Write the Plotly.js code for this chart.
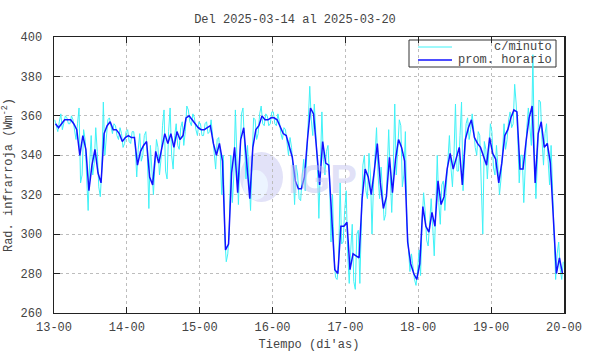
<!DOCTYPE html>
<html>
<head>
<meta charset="utf-8">
<script src="https://cdn.plot.ly/plotly-3.0.1.min.js"></script>
<style>html,body{margin:0;padding:0;background:#fff;}#chart{width:590px;height:354px;}</style>
</head>
<body>
<div id="chart"></div>
<script>
// Tick labels (day-hour)
const dayTicks = [0, 24, 48, 72, 96, 120, 144, 168];
const dayLabels = ["13-00", "14-00", "15-00", "16-00", "17-00", "18-00", "19-00", "20-00"];

// Hourly mean (prom. horario), 2025-03-13 00h .. 2025-03-19 23h
const hourlyMean = [
  356,354,356,358,358,358,356,353,340,350,343,322,335,343,331,326,351,355,357,353,353,351,347,349,
  350,349,349,335,342,345,347,329,325,342,336,343,351,346,351,344,352,348,350,359,360,358,356,354,
  353,353,354,355,346,340,346,337,292,295,331,344,321,348,354,336,318,344,353,355,360,358,358,359,
  359,358,354,351,350,345,339,327,323,323,329,348,364,361,344,325,347,336,335,308,282,280,304,304,
  306,282,290,289,288,318,333,329,320,332,346,326,313,319,339,321,338,348,344,337,296,285,280,277,
  285,314,304,301,311,304,327,315,319,333,341,333,339,344,325,348,354,358,349,346,344,339,335,349,
  341,338,326,336,350,353,359,363,362,333,333,347,359,365,326,351,357,344,346,336,309,280,288,280
];

// Per-minute data (c/minuto): highest and lowest reading within each hour
const minuteHigh = [
  358,357,361,360,359,360,358,356,364,353,348,336,350,354,342,333,367,358,359,356,355,354,351,352,
  353,352,352,343,351,350,352,345,333,348,344,355,363,352,364,350,356,354,357,365,363,361,359,357,
  356,356,357,358,350,348,349,340,298,302,340,363,336,361,364,345,328,359,358,361,365,361,360,362,
  362,361,357,354,353,349,344,335,330,329,338,356,375,366,352,336,362,342,345,320,288,285,326,312,
  322,292,305,300,302,335,340,341,330,342,354,334,322,330,353,332,366,358,355,352,305,290,284,281,
  292,321,312,309,318,312,340,325,327,340,350,340,366,350,367,356,359,361,353,352,350,347,343,356,
  352,345,334,344,356,358,362,376,366,340,340,354,364,391,340,368,367,351,356,345,318,290,296,286
];
const minuteLow = [
  354,352,353,356,356,356,353,348,326,330,329,312,330,336,324,319,340,351,354,351,350,348,344,346,
  347,346,345,329,337,340,340,313,320,335,330,338,332,328,340,333,345,343,345,352,357,355,353,350,
  350,350,351,352,343,333,341,320,286,290,316,330,315,338,346,328,312,337,348,351,356,355,355,356,
  356,355,351,348,347,340,333,315,318,317,322,340,358,350,336,308,338,330,330,296,278,277,295,296,
  290,275,276,272,275,305,322,318,300,325,330,318,307,310,330,311,330,342,324,330,290,281,277,274,
  279,306,297,294,304,289,316,305,312,326,334,324,332,332,322,340,348,353,344,340,326,300,328,340,
  334,330,320,328,343,348,354,356,350,326,316,340,352,345,318,338,348,335,338,325,296,277,282,277
];

const titleText = "Del 2025-03-14 al 2025-03-20";
const yTitle = "Rad. infrarroja (Wm<sup>-2</sup>)";
const xTitle = "Tiempo (di'as)";
const legendNames = ["\u00A0\u00A0\u00A0\u00A0\u00A0c/minuto", "prom. horario"];

// Build traces
const hx = hourlyMean.map((v, i) => i + 0.5);
const mx = [], my = [];
for (let i = 0; i < minuteHigh.length; i++) {
  if (i % 2 === 0) { mx.push(i + 0.25, i + 0.75); my.push(minuteHigh[i], minuteLow[i]); }
  else { mx.push(i + 0.25, i + 0.75); my.push(minuteLow[i], minuteHigh[i]); }
}

const FONT = "Liberation Mono, DejaVu Sans Mono, monospace";
const TXT = "#444";
const L = 54, R = 26, T = 37, B = 41, W = 590, H = 354;
const pw = W - L - R, ph = H - T - B;
const px = v => (v - L) / pw;
const py = v => (H - B - v) / ph;

const traces = [
  {x: mx, y: my, type: "scatter", mode: "lines", name: "c/minuto",
   line: {color: "#3ff2f7", width: 1}, hoverinfo: "skip", showlegend: false},
  {x: hx, y: hourlyMean, type: "scatter", mode: "lines", name: "prom. horario",
   line: {color: "#1212ff", width: 1.5}, showlegend: false}
];

const layout = {
  width: W, height: H,
  margin: {l: L, r: R, t: T, b: B},
  paper_bgcolor: "#fff", plot_bgcolor: "#fff",
  font: {family: FONT, size: 12, color: TXT},
  title: {text: titleText, x: 0.5, xref: "container", y: 1 - 19/H, yref: "container", yanchor: "middle",
          font: {family: FONT, size: 12, color: TXT}},
  xaxis: {
    range: [0, 168], tickvals: dayTicks, ticktext: dayLabels,
    ticks: "inside", ticklen: 6, tickcolor: "#222", tickwidth: 1,
    showline: true, linecolor: "#222", linewidth: 1.2, mirror: "ticks",
    showgrid: true, gridcolor: "#bdbdbd", griddash: "dot", gridwidth: 1,
    zeroline: false, ticklabelstandoff: 2,
    tickfont: {family: FONT, size: 12, color: TXT},
    title: {text: xTitle, font: {family: FONT, size: 12, color: TXT}, standoff: 6}
  },
  yaxis: {
    range: [260, 400], dtick: 20, tick0: 260,
    ticks: "inside", ticklen: 6, tickcolor: "#222", tickwidth: 1,
    showline: true, linecolor: "#222", linewidth: 1.5, mirror: "ticks",
    showgrid: true, gridcolor: "#bdbdbd", griddash: "dot", gridwidth: 1,
    zeroline: false, ticklabelstandoff: 8,
    tickfont: {family: FONT, size: 12, color: TXT},
    title: {text: yTitle, font: {family: FONT, size: 12, color: TXT}, standoff: 12}
  },
  shapes: [
    // IGP watermark globe
    {type: "circle", xref: "paper", yref: "paper", layer: "below",
     x0: px(240), x1: px(283), y0: py(202), y1: py(152),
     fillcolor: "rgb(226,226,248)", line: {width: 0}},
    {type: "circle", xref: "paper", yref: "paper", layer: "below",
     x0: px(243), x1: px(268), y0: py(200), y1: py(170),
     fillcolor: "rgb(236,244,255)", line: {width: 0}},
    // legend box
    {type: "rect", xref: "paper", yref: "paper", layer: "below",
     x0: px(409), x1: px(556), y0: py(67), y1: py(40),
     fillcolor: "#fff", line: {color: "#333", width: 1}},
    {type: "line", xref: "paper", yref: "paper", layer: "below",
     x0: px(418), x1: px(452), y0: py(47), y1: py(47), line: {color: "#3ff2f7", width: 1}},
    {type: "line", xref: "paper", yref: "paper", layer: "below",
     x0: px(418), x1: px(452), y0: py(60), y1: py(60), line: {color: "#1212ff", width: 1.5}}
  ],
  annotations: [
    {text: "IGP", xref: "paper", yref: "paper", x: px(322), y: py(179), showarrow: false,
     font: {family: "Liberation Sans, Arial, sans-serif", size: 40, color: "rgba(195,195,240,0.5)", weight: 700}},
    {text: legendNames[0], xref: "paper", yref: "paper", x: px(554), y: py(47), xanchor: "right", yanchor: "middle",
     showarrow: false, font: {family: FONT, size: 12, color: TXT}},
    {text: legendNames[1], xref: "paper", yref: "paper", x: px(554), y: py(60), xanchor: "right", yanchor: "middle",
     showarrow: false, font: {family: FONT, size: 12, color: TXT}}
  ]
};

Plotly.newPlot("chart", traces, layout, {displayModeBar: false, staticPlot: true});
</script>
</body>
</html>
